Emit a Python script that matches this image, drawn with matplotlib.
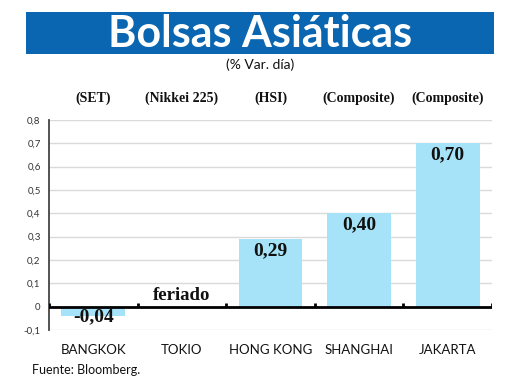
import matplotlib
matplotlib.use("Agg")
import matplotlib.pyplot as plt
from matplotlib.patches import Rectangle

categories = ["BANGKOK", "TOKIO", "HONG KONG", "SHANGHAI", "JAKARTA"]
indices = ["(SET)", "(Nikkei 225)", "(HSI)", "(Composite)", "(Composite)"]
values = [-0.04, 0.0, 0.29, 0.40, 0.70]
labels = ["-0,04", "feriado", "0,29", "0,40", "0,70"]
yticks = [-0.1, 0, 0.1, 0.2, 0.3, 0.4, 0.5, 0.6, 0.7, 0.8]
ytick_labels = ["-0,1", "0", "0,1", "0,2", "0,3", "0,4", "0,5", "0,6", "0,7", "0,8"]

sans = ["Lato", "DejaVu Sans"]
serif = ["Liberation Serif", "DejaVu Serif"]

fig = plt.figure(figsize=(5.2, 3.9), dpi=100)
fig.patch.set_facecolor("white")

# Title banner
fig.patches.append(Rectangle((0.05, 0.8615), 0.90, 0.1075, transform=fig.transFigure,
                             facecolor="#0A66B1", edgecolor="none", zorder=0))
fig.text(0.5, 0.913, "Bolsas Asiáticas", ha="center", va="center", color="white",
         fontsize=31, fontweight="bold", family=sans)
fig.text(0.5, 0.833, "(% Var. día)", ha="center", va="center", color="#111111",
         fontsize=10, family=sans)

ax = fig.add_axes([0.0942, 0.1538, 0.8519, 0.5385])
x = list(range(len(categories)))
ax.bar(x, values, width=0.72, color="#A6E3F8", zorder=2)
ax.set_xlim(-0.5, len(categories) - 0.5)
ax.set_ylim(-0.1, 0.8)
ax.set_yticks(yticks)
ax.set_yticklabels(ytick_labels, fontsize=7, color="#333333", family=sans)
ax.tick_params(axis="y", length=0, pad=6)
ax.set_xticks(x)
ax.set_xticklabels(categories, fontsize=9.5, color="#111111", family=sans)
ax.tick_params(axis="x", length=0, pad=10)

for t in yticks:
    if t != 0:
        ax.axhline(t, color="#DADADA", lw=1, zorder=1)
ax.axhline(0, color="black", lw=2, zorder=3)
for b in [i - 0.5 for i in range(len(categories) + 1)]:
    ax.plot([b, b], [0, 0.017], color="black", lw=2, zorder=3, solid_capstyle="butt")

for s in ["top", "right", "bottom"]:
    ax.spines[s].set_visible(False)
ax.spines["left"].set_color("#444444")
ax.spines["left"].set_linewidth(1.3)

for xi, v, lab in zip(x, values, labels):
    if lab == "feriado":
        ax.text(xi, 0.012, lab, ha="center", va="bottom", fontsize=13.5,
                fontweight="bold", family=serif, color="#111111", zorder=4)
    elif v < 0:
        ax.text(xi, -0.008, lab, ha="center", va="top", fontsize=14,
                fontweight="bold", family=serif, color="#111111", zorder=4)
    else:
        ax.text(xi, v - 0.012, lab, ha="center", va="top", fontsize=14,
                fontweight="bold", family=serif, color="#111111", zorder=4)

ax2 = ax.secondary_xaxis("top")
ax2.set_xticks(x)
ax2.set_xticklabels(indices, fontsize=10, fontweight="bold", family=serif, color="#111111")
ax2.tick_params(length=0, pad=11)
ax2.spines["top"].set_visible(False)

fig.text(0.062, 0.051, "Fuente: Bloomberg.", ha="left", va="center", fontsize=9,
         family=sans, color="#111111")

fig.savefig("out.png", dpi=100)
